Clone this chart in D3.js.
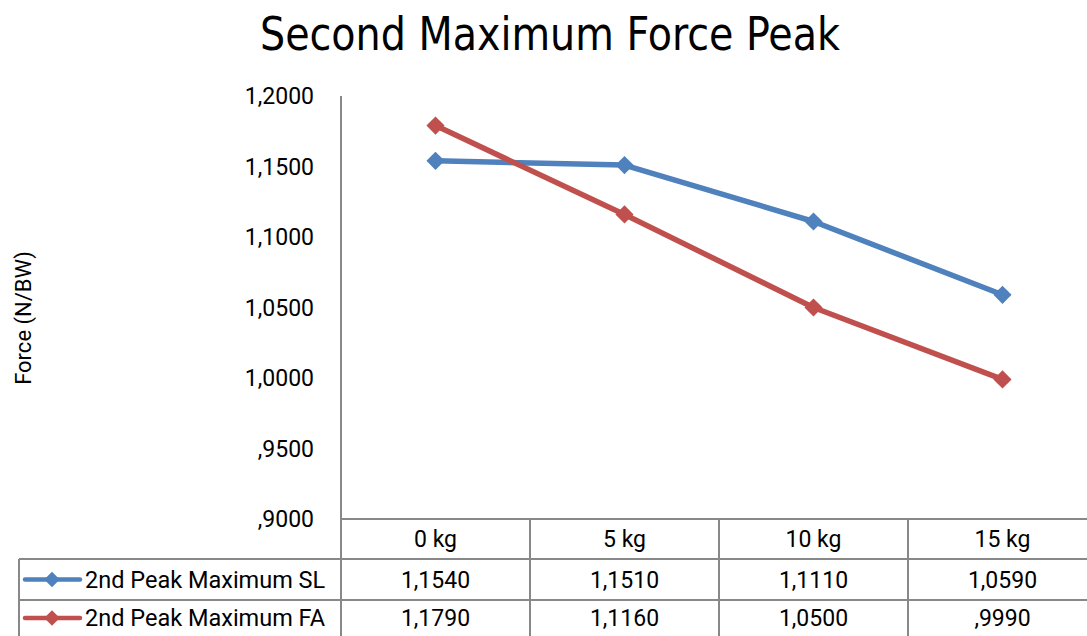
<!DOCTYPE html>
<html>
<head>
<meta charset="utf-8">
<script src="https://cdn.jsdelivr.net/npm/d3@7"></script>
<style>
  html, body { margin: 0; padding: 0; background: #fff; }
  svg { display: block; }
  text { font-family: Roboto, "Liberation Sans", sans-serif; fill: #000; }
</style>
</head>
<body>
<svg id="chart" width="1087" height="636"></svg>
<script>
// Load categories and the two force series (N/BW)
const categories = ["0 kg", "5 kg", "10 kg", "15 kg"];
const seriesNames = ["2nd Peak Maximum SL", "2nd Peak Maximum FA"];
const valuesSL = [1.1540, 1.1510, 1.1110, 1.0590];
const valuesFA = [1.1790, 1.1160, 1.0500, 0.9990];
const yTicks = [0.90, 0.95, 1.00, 1.05, 1.10, 1.15, 1.20];
const colors = ["#4F81BD", "#C0504D"];

const series = [
  { name: seriesNames[0], values: valuesSL, color: colors[0] },
  { name: seriesNames[1], values: valuesFA, color: colors[1] }
];

// Decimal comma, no leading zero below one: 1.154 -> "1,1540", 0.999 -> ",9990"
function fmt(v) {
  const s = v.toFixed(4).replace(".", ",");
  return s.startsWith("0,") ? s.slice(1) : s;
}

const svg = d3.select("#chart");
const W = 1087, H = 636;
const plotLeft = 341, plotTop = 96, plotBottom = 519;
const rowH = [519, 559, 600, 636];
const tableLeft = 19;
const grid = "#888888";

const x = d3.scaleBand().domain(categories).range([plotLeft, plotLeft + 189 * 4]).padding(0);
const y = d3.scaleLinear().domain([0.9, 1.2]).range([plotBottom, plotTop]);

// Title
svg.append("text")
  .attr("x", 550).attr("y", 50)
  .attr("text-anchor", "middle")
  .style("font-family", "'Liberation Sans Narrow', 'DejaVu Sans Condensed', 'Liberation Sans', sans-serif")
  .style("font-size", "46px")
  .attr("textLength", 580)
  .attr("lengthAdjust", "spacingAndGlyphs")
  .text("Second Maximum Force Peak");

// Y axis title
svg.append("text")
  .attr("transform", "translate(31,318) rotate(-90)")
  .attr("text-anchor", "middle")
  .style("font-size", "22px")
  .text("Force (N/BW)");

// Y axis tick labels
svg.append("g").selectAll("text").data(yTicks).join("text")
  .attr("x", 314).attr("y", d => y(d))
  .attr("dy", "0.35em")
  .attr("text-anchor", "end")
  .style("font-size", "23px")
  .text(d => fmt(d));

// Axis line and data-table grid
const g = svg.append("g").attr("stroke", grid).attr("stroke-width", 2).attr("fill", "none");
g.append("line").attr("x1", plotLeft).attr("x2", plotLeft).attr("y1", plotTop).attr("y2", H);
g.append("line").attr("x1", plotLeft).attr("x2", W).attr("y1", rowH[0]).attr("y2", rowH[0]);
[rowH[1], rowH[2]].forEach(yy =>
  g.append("line").attr("x1", tableLeft).attr("x2", W).attr("y1", yy).attr("y2", yy));
g.append("line").attr("x1", tableLeft).attr("x2", tableLeft).attr("y1", rowH[1]).attr("y2", H);
categories.slice(1).forEach(c =>
  g.append("line").attr("x1", x(c)).attr("x2", x(c)).attr("y1", rowH[0]).attr("y2", H));

// Header row: category labels
svg.append("g").selectAll("text").data(categories).join("text")
  .attr("x", d => x(d) + x.bandwidth() / 2)
  .attr("y", (rowH[0] + rowH[1]) / 2)
  .attr("dy", "0.35em")
  .attr("text-anchor", "middle")
  .style("font-size", "23px")
  .text(d => d);

const diamond = (size) => d3.symbol().type(d3.symbolSquare).size(size)();

// Lines and markers
const line = d3.line()
  .x((d, i) => x(categories[i]) + x.bandwidth() / 2)
  .y(d => y(d));

series.forEach(s => {
  svg.append("path")
    .attr("d", line(s.values))
    .attr("fill", "none")
    .attr("stroke", s.color)
    .attr("stroke-width", 5.5)
    .attr("stroke-linejoin", "round");
  svg.append("g").selectAll("path").data(s.values).join("path")
    .attr("d", diamond(165))
    .attr("transform", (d, i) => `translate(${x(categories[i]) + x.bandwidth() / 2},${y(d)}) rotate(45)`)
    .attr("fill", s.color);
});

// Data table rows with legend keys
series.forEach((s, r) => {
  const cy = (rowH[r + 1] + rowH[r + 2]) / 2;
  svg.append("line")
    .attr("x1", 25).attr("x2", 80).attr("y1", cy).attr("y2", cy)
    .attr("stroke", s.color).attr("stroke-width", 4.5).attr("stroke-linecap", "round");
  svg.append("path")
    .attr("d", diamond(120))
    .attr("transform", `translate(52,${cy}) rotate(45)`)
    .attr("fill", s.color);
  svg.append("text")
    .attr("x", 85).attr("y", cy).attr("dy", "0.35em")
    .style("font-size", "23.5px")
    .text(s.name);
  svg.append("g").selectAll("text").data(s.values).join("text")
    .attr("x", (d, i) => x(categories[i]) + x.bandwidth() / 2)
    .attr("y", cy).attr("dy", "0.35em")
    .attr("text-anchor", "middle")
    .style("font-size", "23px")
    .text(d => fmt(d));
});
</script>
</body>
</html>
